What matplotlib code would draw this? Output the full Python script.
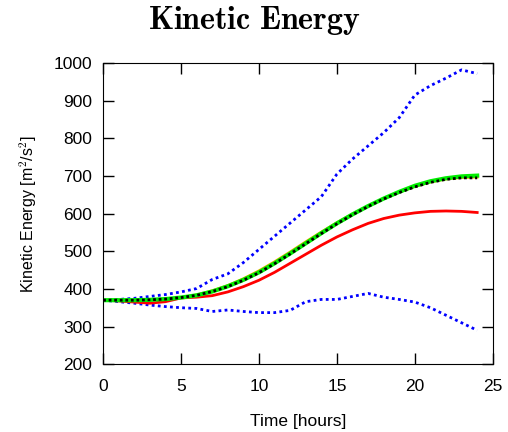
import matplotlib
matplotlib.use("Agg")
import matplotlib.pyplot as plt
import numpy as np

plt.rcParams['font.family'] = ['Liberation Sans', 'DejaVu Sans']
plt.rcParams['mathtext.fontset'] = 'cm'

# time axis (hours)
t = [0, 1, 2, 3, 4, 5, 6, 7, 8, 9, 10, 11, 12, 13, 14, 15, 16, 17, 18, 19, 20, 21, 22, 23, 24]

# upper / lower spread (blue dotted)
ke_upper = [370, 372, 375, 380, 385, 392, 401, 425, 440, 470, 505, 540, 575, 610, 645, 705, 745, 780, 815, 855, 915, 940, 960, 982, 972]
ke_lower = [370, 366, 362, 357, 353, 350, 348, 340, 344, 340, 337, 337, 343, 366, 372, 372, 380, 388, 378, 372, 365, 350, 330, 310, 290]

# mean curves
ke_green = [370, 370, 370, 371, 373, 377, 383, 393, 407, 424, 444, 468, 494, 521, 548, 574, 598, 620, 640, 658, 674, 686, 694, 699, 701]
ke_orange = [370, 370, 370, 371, 373, 377, 384, 395, 409, 427, 448, 472, 498, 525, 551, 576, 599, 620, 640, 657, 672, 684, 692, 696, 697]
ke_black = [370, 370, 370, 371, 373, 377, 383, 393, 406, 423, 443, 467, 493, 520, 547, 573, 597, 619, 639, 656, 671, 683, 691, 695, 695]
ke_red = [370, 368, 365, 362, 366, 376, 378, 382, 392, 406, 423, 444, 468, 492, 516, 538, 557, 574, 587, 596, 602, 606, 607, 606, 603]

fig = plt.figure(figsize=(5.08, 4.32), dpi=100)
ax = fig.add_axes([0.203, 0.157, 0.767, 0.697])

ax.plot(t, ke_upper, color='blue', lw=2, ls=(0, (1, 1.2)))
ax.plot(t, ke_lower, color='blue', lw=2, ls=(0, (1, 1.2)))
ax.plot(t, ke_red, color='red', lw=2)
ax.plot(t, ke_orange, color='orange', lw=2)
ax.plot(t, ke_green, color='#00ee00', lw=3)
ax.plot(t, ke_black, color='black', lw=2, ls=(0, (1, 1)))

ax.set_xlim(0, 25)
ax.set_ylim(200, 1000)
ax.set_xticks([0, 5, 10, 15, 20, 25])
ax.set_yticks(np.arange(200, 1001, 100))
ax.tick_params(direction='in', top=True, right=True, length=8, width=1, labelsize=12.5)
ax.tick_params(axis='x', pad=11)
ax.tick_params(axis='y', pad=8)

ax.set_xlabel('Time [hours]', fontsize=12.5, labelpad=14)
ax.set_ylabel('Kinetic Energy [m$^2$/s$^2$]', fontsize=11.5, labelpad=10)
fig.text(0.5, 0.953, r'$\mathbf{Kinetic\ Energy}$', ha='center', va='center', fontsize=23)

fig.savefig('out.png', dpi=100)
